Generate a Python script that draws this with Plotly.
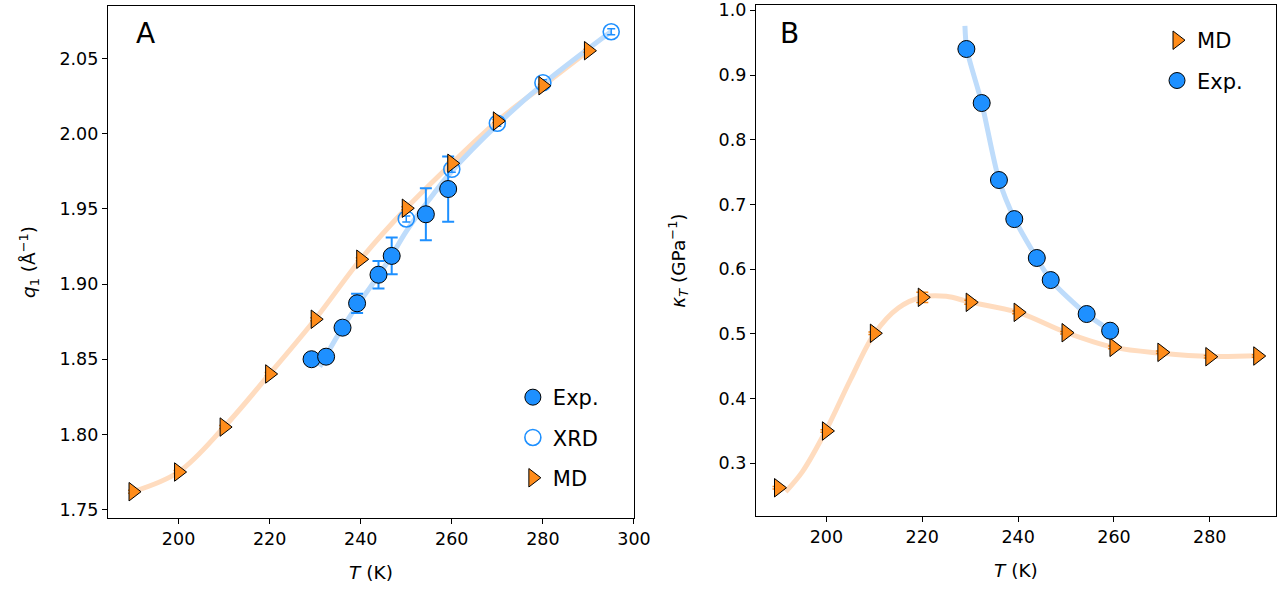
import plotly.graph_objects as go

# ---------------- Data ----------------
# Panel A: q1 vs T
exp_T = [229.2, 232.4, 236.0, 239.2, 243.9, 246.8, 254.3, 259.2]
exp_q = [1.850, 1.8517, 1.871, 1.8872, 1.9062, 1.9187, 1.9464, 1.9632]
exp_q_err = [0.001, 0.001, 0.004, 0.0064, 0.0092, 0.0122, 0.0173, 0.0217]
exp_T_err = [0.4, 0.4, 0.4, 0.4, 0.4, 0.4, 0.4, 0.4]

xrd_T = [250, 260, 270, 280, 295]
xrd_q = [1.9433, 1.9763, 2.0069, 2.0339, 2.0678]
xrd_q_err = [0.002, 0.002, 0.002, 0.002, 0.002]

md_T = [190, 200, 210, 220, 230, 240, 250, 260, 270, 280, 290]
md_q = [1.7619, 1.775, 1.8049, 1.8402, 1.8766, 1.9165, 1.9504, 1.9803, 2.0084, 2.0319, 2.0552]
md_q_err = [0.001] * 11

fitA_exp_T = [231, 236, 240, 244, 247, 250, 255, 260, 270, 280, 295]
fitA_exp_q = [1.845, 1.871, 1.889, 1.906, 1.920, 1.935, 1.956, 1.975, 2.006, 2.033, 2.068]

# Panel B: kappa_T vs T
md_k = [0.2621, 0.3498, 0.5008, 0.5564, 0.5487, 0.5332, 0.5017, 0.4791, 0.4714, 0.4646, 0.4657]
md_k_err = [0.002, 0.002, 0.002, 0.008, 0.003, 0.002, 0.002, 0.002, 0.002, 0.002, 0.002]
exp_k = [0.9402, 0.8567, 0.7377, 0.6773, 0.6172, 0.5831, 0.5306, 0.5048]

fitB_md_T = [191.5, 195, 200, 205, 210, 215, 220, 225, 230, 240, 250, 260, 270, 280, 290]
fitB_md_k = [0.256, 0.287, 0.352, 0.429, 0.500, 0.540, 0.557, 0.558, 0.549, 0.533, 0.502, 0.479, 0.470, 0.465, 0.466]

fitB_exp_T = [228.9, 229.3, 232.4, 236.0, 239.3, 243.9, 246.8, 254.2, 259.3]
fitB_exp_k = [0.976, 0.940, 0.857, 0.738, 0.677, 0.617, 0.583, 0.531, 0.505]

xticksA = [200, 220, 240, 260, 280, 300]
yticksA = [1.75, 1.80, 1.85, 1.90, 1.95, 2.00, 2.05]
xticksB = [200, 220, 240, 260, 280]
yticksB = [0.3, 0.4, 0.5, 0.6, 0.7, 0.8, 0.9, 1.0]

# ---------------- Styles ----------------
BLUE = "#1E90FF"
ORANGE = "#FF8C1A"
LBLUE = "#BEDCFB"
LORANGE = "#FFDCBF"
FONT = "DejaVu Sans"

fig = go.Figure()

# ---- Panel A ----
fig.add_trace(go.Scatter(x=md_T, y=md_q, mode="lines", line=dict(color=LORANGE, width=5, shape="spline"),
                         showlegend=False, hoverinfo="skip", xaxis="x", yaxis="y"))
fig.add_trace(go.Scatter(x=fitA_exp_T, y=fitA_exp_q, mode="lines", line=dict(color=LBLUE, width=5, shape="spline"),
                         showlegend=False, hoverinfo="skip", xaxis="x", yaxis="y"))
fig.add_trace(go.Scatter(x=exp_T, y=exp_q, mode="markers", name="Exp.",
                         marker=dict(symbol="circle", size=17, color=BLUE, line=dict(color="black", width=1)),
                         error_y=dict(type="data", array=exp_q_err, color=BLUE, thickness=2, width=6),
                         error_x=dict(type="data", array=exp_T_err, color=BLUE, thickness=2, width=0),
                         legend="legend", legendgroup="a1", xaxis="x", yaxis="y"))
fig.add_trace(go.Scatter(x=xrd_T, y=xrd_q, mode="markers", name="XRD",
                         marker=dict(symbol="circle-open", size=16, color=BLUE, line=dict(color=BLUE, width=1.6)),
                         error_y=dict(type="data", array=xrd_q_err, color=BLUE, thickness=1.5, width=4),
                         legend="legend", legendgroup="a2", xaxis="x", yaxis="y"))
fig.add_trace(go.Scatter(x=md_T, y=md_q, mode="markers", name="MD",
                         marker=dict(symbol="triangle-right", size=16, color=ORANGE, line=dict(color="black", width=1)),
                         error_y=dict(type="data", array=md_q_err, color=ORANGE, thickness=1.5, width=5),
                         legend="legend", legendgroup="a3", xaxis="x", yaxis="y"))

# ---- Panel B ----
fig.add_trace(go.Scatter(x=fitB_md_T, y=fitB_md_k, mode="lines", line=dict(color=LORANGE, width=5, shape="spline"),
                         showlegend=False, hoverinfo="skip", xaxis="x2", yaxis="y2"))
fig.add_trace(go.Scatter(x=fitB_exp_T, y=fitB_exp_k, mode="lines", line=dict(color=LBLUE, width=5, shape="spline", smoothing=0.8),
                         showlegend=False, hoverinfo="skip", xaxis="x2", yaxis="y2"))
fig.add_trace(go.Scatter(x=md_T, y=md_k, mode="markers", name="MD",
                         marker=dict(symbol="triangle-right", size=16, color=ORANGE, line=dict(color="black", width=1)),
                         error_y=dict(type="data", array=md_k_err, color=ORANGE, thickness=1.5, width=6),
                         legend="legend2", legendgroup="b1", xaxis="x2", yaxis="y2"))
fig.add_trace(go.Scatter(x=exp_T, y=exp_k, mode="markers", name="Exp.",
                         marker=dict(symbol="circle", size=17, color=BLUE, line=dict(color="black", width=1)),
                         legend="legend2", legendgroup="b2", xaxis="x2", yaxis="y2"))

axis_common = dict(showline=True, linecolor="black", linewidth=1.2, mirror=True,
                   ticks="outside", ticklen=5, tickwidth=1.2, tickcolor="black",
                   showgrid=False, zeroline=False, automargin=False,
                   tickfont=dict(family=FONT, size=17.5, color="black"))

fig.update_layout(
    width=1287, height=590,
    margin=dict(l=0, r=0, t=0, b=0, autoexpand=False),
    paper_bgcolor="white", plot_bgcolor="white",
    font=dict(family=FONT, size=17, color="black"),
    xaxis=dict(domain=[0.0839, 0.4926], range=[184.5, 300.0], tickvals=xticksA,
               title=dict(text="<i>T</i> (K)", font=dict(size=18.5), standoff=17), anchor="y", **axis_common),
    yaxis=dict(domain=[0.122, 0.9898], range=[1.7444, 2.0849], tickvals=yticksA, tickformat=".2f",
               title=dict(text="<i>q</i><sub>1</sub> (Å<sup>−1</sup>)", font=dict(size=18.5), standoff=18),
               anchor="x", **axis_common),
    xaxis2=dict(domain=[0.5874, 0.9914], range=[185.3, 293.8], tickvals=xticksB,
                title=dict(text="<i>T</i> (K)", font=dict(size=18.5), standoff=17), anchor="y2", **axis_common),
    yaxis2=dict(domain=[0.1254, 0.9915], range=[0.2184, 1.0082], tickvals=yticksB, tickformat=".1f",
                title=dict(text="<i>κ</i><sub><i>T</i></sub> (GPa<sup>−1</sup>)", font=dict(size=18.5), standoff=28),
                anchor="x2", **axis_common),
    legend=dict(x=0.3985, y=0.361, xanchor="left", yanchor="top", bgcolor="rgba(0,0,0,0)",
                font=dict(family=FONT, size=21), traceorder="grouped", tracegroupgap=10),
    legend2=dict(x=0.899, y=0.966, xanchor="left", yanchor="top", bgcolor="rgba(0,0,0,0)",
                 font=dict(family=FONT, size=21), traceorder="grouped", tracegroupgap=10),
    annotations=[
        dict(text="A", x=0.113, y=0.9425, xref="paper", yref="paper", showarrow=False,
             font=dict(family=FONT, size=28, color="black"), xanchor="center", yanchor="middle"),
        dict(text="B", x=0.6135, y=0.9425, xref="paper", yref="paper", showarrow=False,
             font=dict(family=FONT, size=28, color="black"), xanchor="center", yanchor="middle"),
    ],
)

fig.write_html("out.html", config={"displayModeBar": False},
               post_script="document.body.style.margin='0';document.body.style.padding='0';")
